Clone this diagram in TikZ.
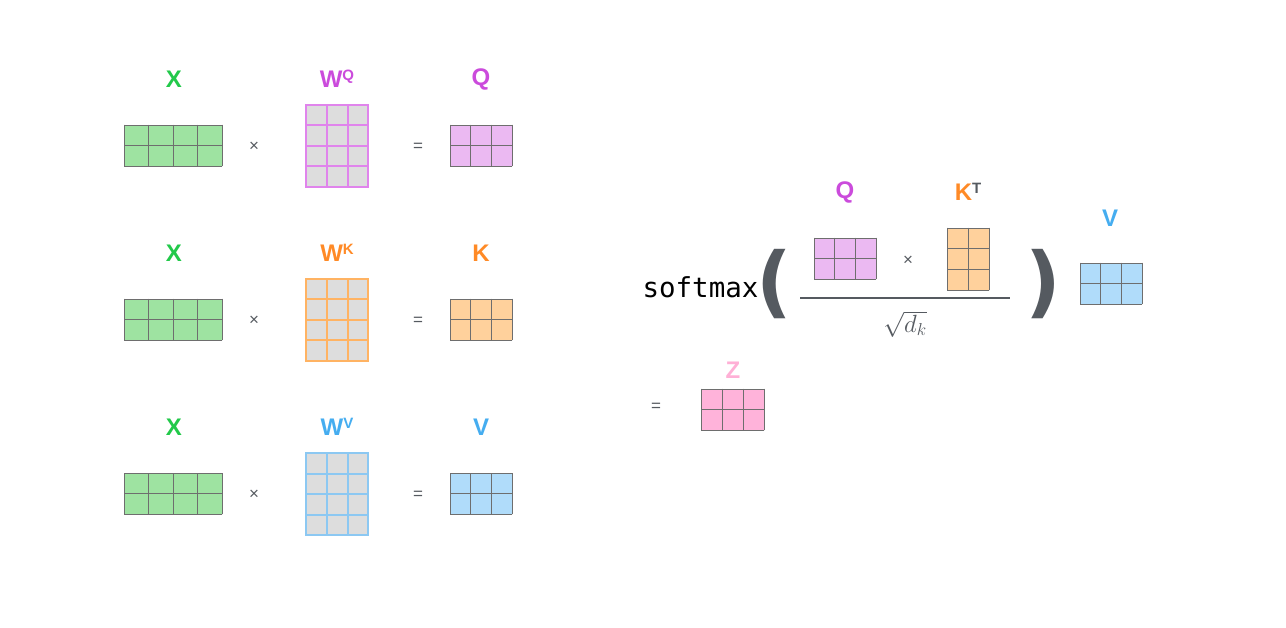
\documentclass[tikz,border=0pt]{standalone}
\usepackage{fontspec}
\setmainfont{Liberation Sans}
\setmonofont{DejaVu Sans Mono}
\definecolor{xlab}{HTML}{22C94A}
\definecolor{xfill}{HTML}{9EE3A1}
\definecolor{qlab}{HTML}{CB4BDC}
\definecolor{qfill}{HTML}{EBB9F2}
\definecolor{qline}{HTML}{E084EC}
\definecolor{klab}{HTML}{FF8A26}
\definecolor{kfill}{HTML}{FFD19C}
\definecolor{kline}{HTML}{FFB363}
\definecolor{vlab}{HTML}{45ADF0}
\definecolor{vfill}{HTML}{B0DCFA}
\definecolor{vline}{HTML}{8CC8F2}
\definecolor{zlab}{HTML}{FFB0D6}
\definecolor{zfill}{HTML}{FFB3DA}
\definecolor{wcell}{HTML}{DDDDDD}
\definecolor{opgray}{HTML}{555A60}
\definecolor{gridgray}{HTML}{6E6E6E}
% matrix of cells: x, y (top), columns, rows, cell width, cell height, fill, line colour, line width
\newcommand\cellmat[9]{%
  \pgfmathsetmacro\cmw{#3*#5}\pgfmathsetmacro\cmh{#4*#6}%
  \fill[#7] (#1,#2) rectangle ++(\cmw,\cmh);
  \foreach \i in {0,...,#3}{\draw[#8,line width=#9,line cap=rect] (#1+\i*#5,#2) -- ++(0,\cmh);}
  \foreach \j in {0,...,#4}{\draw[#8,line width=#9,line cap=rect] (#1,#2+\j*#6) -- ++(\cmw,0);}
}
\begin{document}
\begin{tikzpicture}[x=1pt,y=-1pt,
  lbl/.style={font=\fontsize{24}{24}\bfseries\selectfont},
  op/.style={font=\fontsize{17}{17}\selectfont,text=opgray}]
\useasboundingbox (0,0) rectangle (1286,628);
\fill[white] (0,0) rectangle (1286,628);
\newcommand\supr[1]{\raisebox{0.3em}{\fontsize{15}{15}\selectfont #1}}

% --- three projections: X times W = Q, K, V
\foreach \dy/\wl/\wt/\wf/\rf/\rl [count=\r] in {
    0/qline/Q/qlab/qfill/Q,
    174/kline/K/klab/kfill/K,
    348/vline/V/vlab/vfill/V}{
  \node[lbl,text=xlab] (xl\r) at (174,79+\dy) {X};
  \cellmat{124}{125+\dy}{4}{2}{24.5}{20.5}{xfill}{gridgray}{0.9pt}
  \node[op] (tm\r) at (254,147+\dy) {×};
  \node[lbl,text=\wf] (wl\r) at (337,79+\dy) {W\supr{\wt}};
  \cellmat{306}{105+\dy}{3}{4}{20.8}{20.5}{wcell}{\wl}{2pt}
  \node[op] (eq\r) at (418,147+\dy) {=};
  \node[lbl,text=\wf] (rl\r) at (481,79+\dy) {\rl};
  \cellmat{450}{125+\dy}{3}{2}{20.67}{20.5}{\rf}{gridgray}{0.9pt}
}

% --- attention: softmax(Q K^T / sqrt(d_k)) V = Z
\node[font=\ttfamily\fontsize{27.5}{27.5}\selectfont,anchor=west] (sm) at (639,287) {softmax};
\node[font=\fontsize{78}{78}\selectfont,text=opgray] (lp) at (774,284) {\fontspec{DejaVu Sans}\bfseries(};
\node[font=\fontsize{78}{78}\selectfont,text=opgray] (rp) at (1043,284) {\fontspec{DejaVu Sans}\bfseries)};

\node[lbl,text=qlab] (aq) at (845,192) {Q};
\cellmat{814}{238}{3}{2}{20.67}{20.5}{qfill}{gridgray}{0.9pt}
\node[op] (atm) at (908,261) {×};
\node[lbl,text=klab] (ak) at (968,192) {K\textcolor{opgray}{\supr{T}}};
\cellmat{947}{228}{2}{3}{21}{20.67}{kfill}{gridgray}{0.9pt}
\coordinate (fa) at (800,298);
\coordinate (fb) at (1010,298);
\draw[opgray,line width=1.2pt] (fa) -- (fb);
\node[text=opgray,font=\fontsize{25}{25}\selectfont] (dk) at (905,324) {$\sqrt{d_k}$};

\node[lbl,text=vlab] (av) at (1110,218) {V};
\cellmat{1080}{263}{3}{2}{20.67}{20.5}{vfill}{gridgray}{0.9pt}

\node[op] (aeq) at (656,407) {=};
\node[lbl,text=zlab] (az) at (733,370) {Z};
\cellmat{701}{389}{3}{2}{21}{20.5}{zfill}{gridgray}{0.9pt}
\end{tikzpicture}
\end{document}
